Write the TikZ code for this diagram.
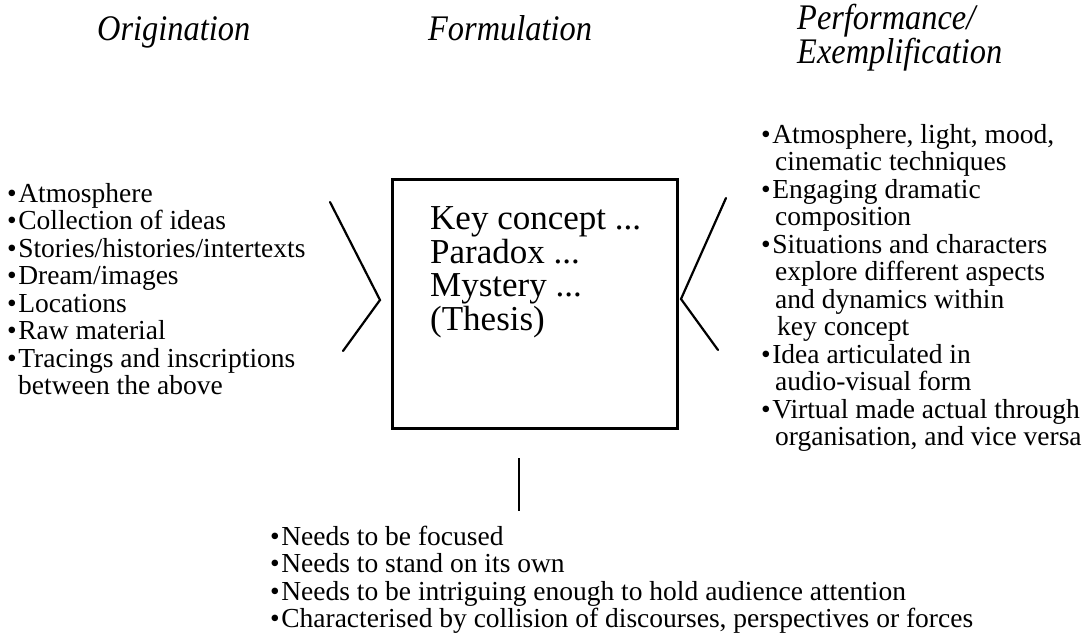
\documentclass[tikz,border=0pt]{standalone}
\usepackage{fontspec}
\setmainfont{Liberation Serif}
\newfontfamily\titlefont[FakeStretch=0.9]{Liberation Serif}
\begin{document}
\begin{tikzpicture}[x=1pt,y=-1pt,
  title/.style={font=\titlefont\itshape\fontsize{36}{31}\selectfont, anchor=base west, inner sep=0pt},
  item/.style={font=\fontsize{27.5}{27.5}\selectfont, anchor=base west, inner sep=0pt},
  keytext/.style={font=\fontsize{35}{34}\selectfont, anchor=base west, inner sep=0pt},
  bar/.style={line width=2.2pt, line cap=round, line join=miter},
  frame/.style={draw, line width=2.5pt, minimum width=285pt, minimum height=249pt, anchor=north west, inner sep=0pt}]
\useasboundingbox (0,0) rectangle (1088,637);
% titles
\node[title] (t1) at (97,40) {Origination};
\node[title] (t2) at (428,40) {Formulation};
\node[title] (t3a) at (797,29) {Performance/};
\node[title] (t3b) at (797,63) {Exemplification};
% central box
\node[frame] (box) at (391,178) {};
\node[keytext] (k1) at (430,229.5) {Key concept ...};
\node[keytext] (k2) at (430,263) {Paradox ...};
\node[keytext] (k3) at (430,296.5) {Mystery ...};
\node[keytext] (k4) at (430,330) {(Thesis)};
% chevrons
\coordinate (lc1) at (330,202);
\coordinate (lc2) at (380,300);
\coordinate (lc3) at (343,351);
\draw[bar] (lc1) -- (lc2) -- (lc3);
\coordinate (rc1) at (726,198);
\coordinate (rc2) at (681,299);
\coordinate (rc3) at (718,350);
\draw[bar] (rc1) -- (rc2) -- (rc3);
% vertical line
\coordinate (vt) at (519,458);
\coordinate (vb) at (519,511);
\draw[bar, line width=2.5pt, line cap=butt] (vt) -- (vb);
% left list
\node[item] (o1) at (7,202) {•\kern1.5pt Atmosphere};
\node[item] (o2) at (7,229.5) {•\kern1.5pt Collection of ideas};
\node[item] (o3) at (7,257) {•\kern1.5pt Stories/histories/intertexts};
\node[item] (o4) at (7,284.5) {•\kern1.5pt Dream/images};
\node[item] (o5) at (7,312) {•\kern1.5pt Locations};
\node[item] (o6) at (7,339.5) {•\kern1.5pt Raw material};
\node[item] (o7) at (7,367) {•\kern1.5pt Tracings and inscriptions};
\node[item] (o8) at (18,394.5) {between the above};
% right list
\node[item] (p1) at (761,143) {•\kern1.5pt Atmosphere, light, mood,};
\node[item] (p2) at (775,170.5) {cinematic techniques};
\node[item] (p3) at (761,198) {•\kern1.5pt Engaging dramatic};
\node[item] (p4) at (775,225.5) {composition};
\node[item] (p5) at (761,253) {•\kern1.5pt Situations and characters};
\node[item] (p6) at (775,280.5) {explore different aspects};
\node[item] (p7) at (775,308) {and dynamics within};
\node[item] (p8) at (777,335.5) {key concept};
\node[item] (p9) at (761,363) {•\kern1.5pt Idea articulated in};
\node[item] (p10) at (775,390.5) {audio-visual form};
\node[item] (p11) at (761,418) {•\kern1.5pt Virtual made actual through};
\node[item] (p12) at (775,445.5) {organisation, and vice versa};
% bottom list
\node[item] (f1) at (270,545) {•\kern1.5pt Needs to be focused};
\node[item] (f2) at (270,572.5) {•\kern1.5pt Needs to stand on its own};
\node[item] (f3) at (270,600) {•\kern1.5pt Needs to be intriguing enough to hold audience attention};
\node[item] (f4) at (270,627.5) {•\kern1.5pt Characterised by collision of discourses, perspectives or forces};
\end{tikzpicture}
\end{document}
